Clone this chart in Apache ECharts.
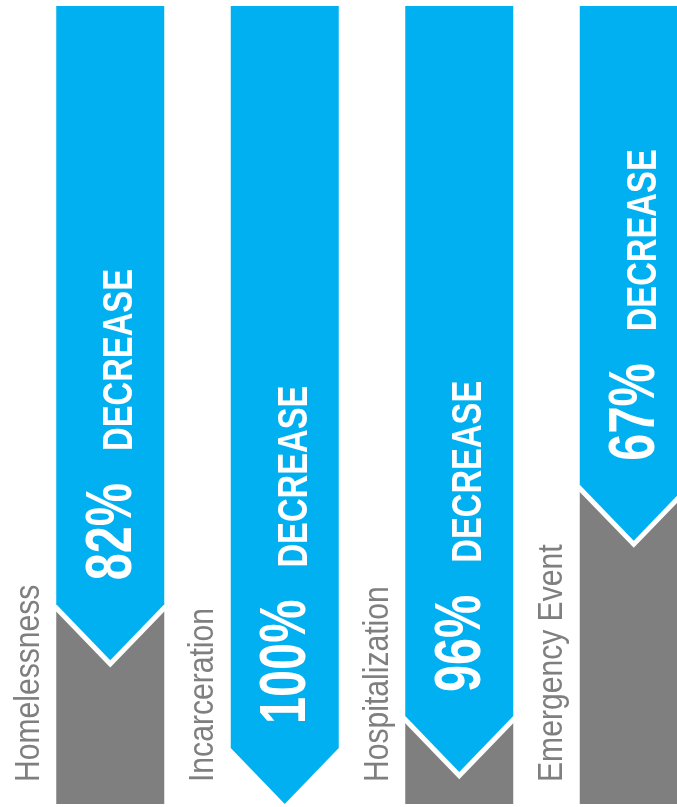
<!DOCTYPE html>
<html>
<head>
<meta charset="utf-8">
<script src="https://cdn.jsdelivr.net/npm/echarts@6/dist/echarts.min.js"></script>
<style>
html,body{margin:0;padding:0;background:#fff;}
#chart{width:677px;height:807px;}
</style>
</head>
<body>
<div id="chart"></div>
<script>
const categories = ['Homelessness', 'Incarceration', 'Hospitalization', 'Emergency Event'];
const decreasePct = [82, 100, 96, 67];
const labelSuffix = 'DECREASE';

const BLUE = '#00b0f0';
const GRAY = '#7f7f7f';
const FONT = '"Liberation Sans", Arial, sans-serif';

const measureCtx = document.createElement('canvas').getContext('2d');
function textWidth(txt, font) { measureCtx.font = font; return measureCtx.measureText(txt).width; }

const chart = echarts.init(document.getElementById('chart'), null, { renderer: 'canvas' });

function renderItem(params, api) {
  const idx = api.value(0);
  const dec = api.value(1);
  const remaining = 100 - dec;
  const topPt = api.coord([idx, 100]);
  const tipPt = api.coord([idx, remaining]);
  const botPt = api.coord([idx, 0]);
  const cx = topPt[0];
  const halfW = 54;
  const depth = 56;
  const x0 = cx - halfW, x1 = cx + halfW;
  const tipY = tipPt[1];
  const edgeY = tipY - depth;
  const children = [];
  if (remaining > 0) {
    children.push({
      type: 'rect',
      shape: { x: x0, y: edgeY, width: halfW * 2, height: botPt[1] - edgeY },
      style: { fill: GRAY }
    });
    children.push({
      type: 'polyline',
      shape: { points: [[x0 - 3, edgeY - 3], [cx, tipY], [x1 + 3, edgeY - 3]] },
      style: { stroke: '#ffffff', lineWidth: 10, fill: null }
    });
  }
  children.push({
    type: 'polygon',
    shape: { points: [[x0, topPt[1]], [x1, topPt[1]], [x1, edgeY], [cx, tipY], [x0, edgeY]] },
    style: { fill: BLUE }
  });
  const pctFont = 'bold 64px ' + FONT;
  const pctScale = 0.76;
  const pctText = dec + '%';
  const pctStart = tipY - 80;
  const baseX = cx + 25;
  children.push({
    type: 'text',
    x: baseX + 0.153 * 64, y: pctStart,
    rotation: Math.PI / 2, scaleX: pctScale, scaleY: 1,
    style: { text: pctText, font: pctFont, fill: '#ffffff', align: 'left', verticalAlign: 'bottom' }
  });
  const pctLen = textWidth(pctText, pctFont) * pctScale;
  const decFont = 'bold 42px ' + FONT;
  children.push({
    type: 'text',
    x: baseX + 0.153 * 42, y: pctStart - pctLen - 32,
    rotation: Math.PI / 2, scaleX: 0.78, scaleY: 1,
    style: { text: labelSuffix, font: decFont, fill: '#ffffff', align: 'left', verticalAlign: 'bottom' }
  });
  children.push({
    type: 'text',
    x: cx - 69 + 0.153 * 35, y: botPt[1] - 22,
    rotation: Math.PI / 2, scaleX: 0.86, scaleY: 1,
    style: { text: categories[idx], font: '35px ' + FONT, fill: GRAY, align: 'left', verticalAlign: 'bottom' }
  });
  return { type: 'group', children: children };
}

chart.setOption({
  animation: false,
  grid: { left: 23, width: 698, top: 6, bottom: 3, outerBoundsMode: 'none', containLabel: false },
  xAxis: { type: 'category', data: categories, show: false },
  yAxis: { type: 'value', min: 0, max: 100, show: false },
  series: [{
    type: 'custom',
    renderItem: renderItem,
    clip: false,
    data: categories.map((c, i) => [i, decreasePct[i]])
  }]
});
</script>
</body>
</html>
